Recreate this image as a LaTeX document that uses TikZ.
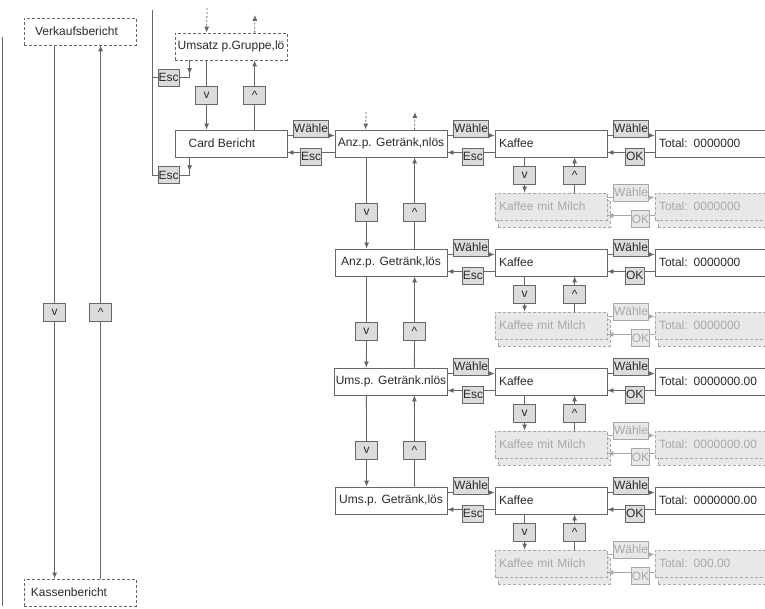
\documentclass[tikz,border=0pt]{standalone}
\usepackage{fontspec}
\setmainfont{Liberation Sans}
\usetikzlibrary{arrows.meta,%
                shadows,%
                decorations.markings}
\usetikzlibrary{positioning}

\definecolor{linegray}{HTML}{666666}
\definecolor{txtgray}{HTML}{2A2A2A}
\definecolor{keyfill}{HTML}{DCDCDC}
\definecolor{inact}{HTML}{A8A8A8}
\definecolor{inactfill}{HTML}{E8E8E8}

\tikzset{
  menu/.style={draw=linegray, fill=white, line width=0.8pt, minimum width=112pt,
    minimum height=27pt, inner xsep=1pt, text=txtgray},
  menuopt/.style={menu, dash pattern=on 3pt off 2pt},
  entry/.style={menu, text width=104pt, inner xsep=4pt, align=left},
  entrygray/.style={entry, draw=inact, fill=inactfill, text=inact, dash pattern=on 3pt off 2pt,
    general shadow={shadow xshift=3pt, shadow yshift=-7pt, draw=inact, fill=inactfill,
      dash pattern=on 3pt off 2pt}},
  key/.style={draw=linegray, fill=keyfill, line width=0.7pt, inner xsep=0.5pt, inner ysep=0pt,
    minimum height=17pt, text=txtgray},
  keygray/.style={key, draw=inact, fill=inactfill, text=inact},
  arrowkey/.style={key, minimum width=22pt, minimum height=18pt},
  conn/.style={draw=linegray, line width=0.8pt, -{Latex[length=6pt,width=5pt]}},
  conngray/.style={conn, draw=inact},
  optconn/.style={conn, dash pattern=on 2pt off 2pt},
  backconn/.style={draw=linegray, line width=0.8pt, postaction={decorate},
    decoration={markings, mark=at position 0.5 with {\arrow{Latex[length=6pt,width=5pt]}}}}
}

\begin{document}
\begin{tikzpicture}[x=1pt, y=-1pt, font=\fontsize{12}{14}\selectfont]
  \useasboundingbox (0,0) rectangle (765,609);

  % Berichte
  \coordinate (frame top) at (2,37);
  \coordinate (frame bottom) at (2,606);
  \draw[linegray, line width=0.8pt] (frame top) -- (frame bottom);
  \node[menuopt] (verkauf) at (80,31.5) {Verkaufsbericht\hspace*{7pt}};
  \node[menuopt] (kassen) at (80,592.5) {Kassenbericht\hspace*{22pt}};
  \draw[conn] ([xshift=31pt]verkauf.south west) -- node[arrowkey] {v} ([xshift=31pt]kassen.north west);
  \draw[conn] ([xshift=77pt]kassen.north west) -- node[arrowkey] {\textasciicircum} ([xshift=77pt]verkauf.south west);

  % Card Bericht
  \coordinate (sub top) at (152,10);
  \node[menuopt] (umsatz) at (231,46.5) {Umsatz p.Gruppe,lö};
  \node[menu] (card) at (231,143.5) {Card Bericht\hspace*{18pt}};
  \draw[conn] ([xshift=32pt]umsatz.south west) -- node[arrowkey] {v} ([xshift=32pt]card.north west);
  \draw[conn] ([xshift=80pt]card.north west) -- node[arrowkey] {\textasciicircum} ([xshift=80pt]umsatz.south west);
  \coordinate (umsatz in) at (207,8);
  \coordinate (umsatz out) at (255,15);
  \draw[optconn] (umsatz in) -- ([xshift=32pt]umsatz.north west);
  \draw[optconn] ([xshift=80pt]umsatz.north west) -- (umsatz out);
  \node[key] (esc umsatz) at (168.5,77.5) {Esc};
  \node[key] (esc card) at (168.5,175) {Esc};
  \draw[linegray, line width=0.8pt] (sub top) |- (esc card.west);
  \draw[linegray, line width=0.8pt] (esc umsatz.west) -- (esc umsatz.west -| sub top);
  \draw[backconn] ([xshift=15pt]umsatz.south west) |- (esc umsatz.east);
  \draw[backconn] ([xshift=15pt]card.south west) |- (esc card.east);

  % Getraenke
  \foreach \i/\menutext/\total/\milktotal in {1/{Anz.p. Getränk,nlös}/0000000/0000000,
      2/{Anz.p. Getränk,lös}/0000000/0000000,
      3/{Ums.p. Getränk.nlös}/0000000.00/0000000.00,
      4/{Ums.p. Getränk,lös}/0000000.00/000.00} {
    \pgfmathsetmacro{\y}{143.5+119*(\i-1)}
    \node[menu] (main\i) at (391,\y) {\menutext};
    \node[entry] (kaffee\i) at (551,\y) {Kaffee};
    \node[entry] (total\i) at (711,\y) {Total: \total};
    \node[entrygray] (milch\i) at (551,{\y+63}) {Kaffee mit Milch};
    \node[entrygray] (mtotal\i) at (711,{\y+63}) {Total: \milktotal};
    \draw[conn] ([yshift=8pt]main\i.east) -- node[key, yshift=7pt] {Wähle} ([yshift=8pt]kaffee\i.west);
    \draw[conn] ([yshift=-9pt]kaffee\i.west) -- node[key, yshift=-4pt, pos=0.46] {Esc} ([yshift=-9pt]main\i.east);
    \draw[conn] ([yshift=8pt]kaffee\i.east) -- node[key, yshift=7pt] {Wähle} ([yshift=8pt]total\i.west);
    \draw[conn] ([yshift=-9pt]total\i.west) -- node[key, yshift=-4pt, pos=0.42] {OK} ([yshift=-9pt]kaffee\i.east);
    \draw[conn] ([xshift=30pt]kaffee\i.south west) -- node[arrowkey] {v} ([xshift=30pt]milch\i.north west);
    \draw[conn] ([xshift=80pt]milch\i.north west) -- node[arrowkey] {\textasciicircum} ([xshift=80pt]kaffee\i.south west);
    \draw[conngray] ([yshift=9pt]milch\i.east) -- node[keygray, yshift=5pt] {Wähle} ([yshift=9pt]mtotal\i.west);
    \draw[conngray] ([yshift=-9pt]mtotal\i.west) -- node[keygray, yshift=-3.5pt, pos=0.3] {OK} ([yshift=-9pt]milch\i.east);
  }
  \foreach \i/\j in {1/2,2/3,3/4} {
    \draw[conn] ([xshift=32pt]main\i.south west) -- node[arrowkey, pos=0.6] {v} ([xshift=32pt]main\j.north west);
    \draw[conn] ([xshift=80pt]main\j.north west) -- node[arrowkey, pos=0.4] {\textasciicircum} ([xshift=80pt]main\i.south west);
  }
  \coordinate (anz in) at (366,112);
  \coordinate (anz out) at (415,112);
  \draw[optconn] (anz in) -- ([xshift=31pt]main1.north west);
  \draw[optconn] ([xshift=80pt]main1.north west) -- (anz out);
  \draw[conn] ([yshift=8pt]card.east) -- node[key, yshift=7pt] {Wähle} ([yshift=8pt]main1.west);
  \draw[conn] ([yshift=-9pt]main1.west) -- node[key, yshift=-4pt] {Esc} ([yshift=-9pt]card.east);
\end{tikzpicture}
\end{document}
